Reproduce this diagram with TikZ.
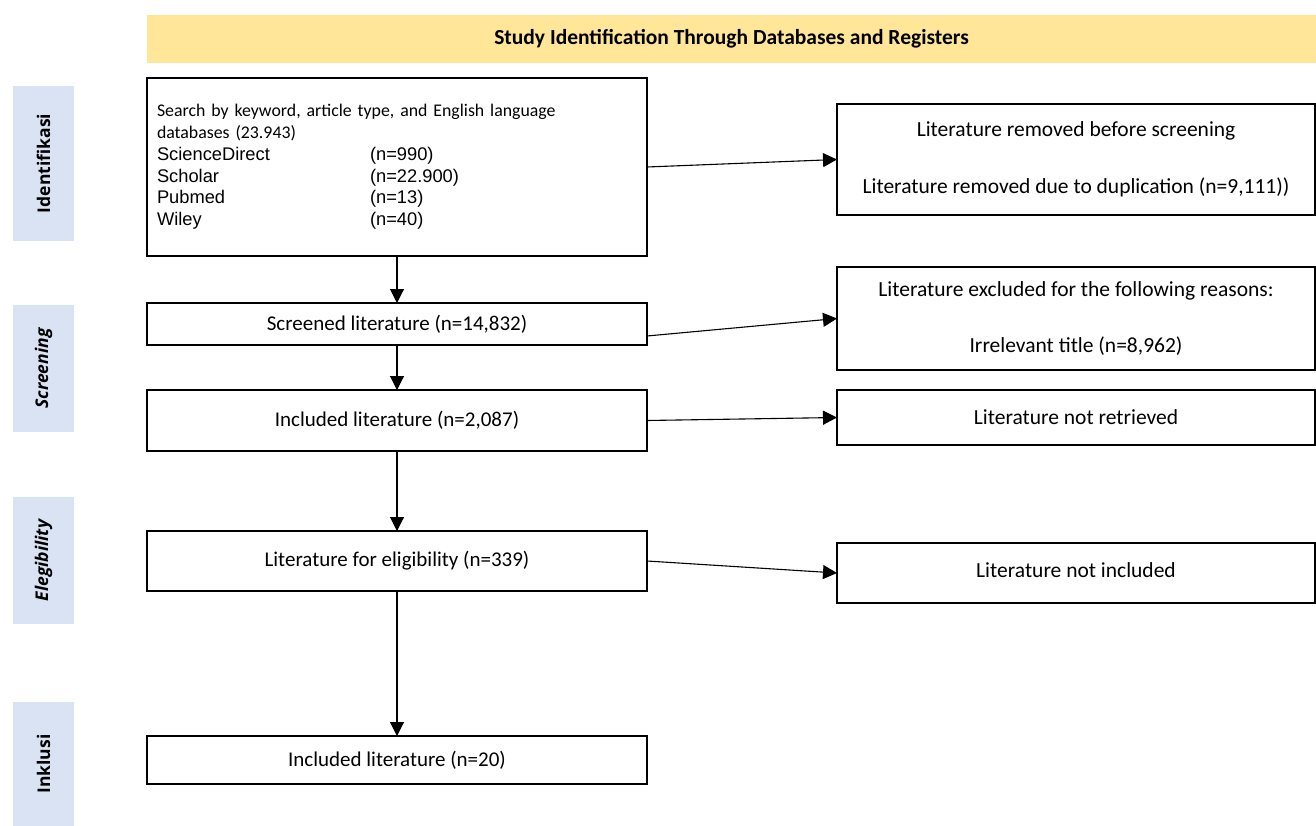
\documentclass[tikz,border=0pt]{standalone}
\usepackage{fontspec}
\setmainfont{Carlito}
\newfontfamily\arialfont{Liberation Sans}
\newfontfamily\phasefont{Open Sans}[BoldFont=* Bold, BoldItalicFont=* Bold Italic]
\usetikzlibrary{positioning}
\usetikzlibrary{arrows.meta}
\definecolor{headyellow}{HTML}{FFE699}
\definecolor{phaseblue}{HTML}{DAE3F3}
\def\bw{500pt}
\def\rw{478pt}
\tikzset{
    border/.style = {
        draw, rectangle, minimum width=\bw, inner sep=0pt, outer sep=0pt, line width=2.2pt, align=center, font=\fontsize{21}{25}\selectfont
    },
    sidebox/.style = {
        border, minimum width=\rw, line width=1.6pt, anchor=north west, font=\fontsize{21.5}{25}\selectfont
    },
    phase/.style = {
        fill=phaseblue, rotate=90, minimum height=61pt, inner sep=0pt, font=\phasefont\bfseries\fontsize{17.5}{20}\selectfont
    },
    link/.style = {
        -{Triangle[length=14pt,width=14pt]}, line width=1.1pt
    },
}

\begin{document}
\begin{tikzpicture}[x=1pt, y=-1pt]
        \useasboundingbox (0,0) rectangle (1316,826);
        % Header and phases
        \node[fill=headyellow, minimum width=1169pt, minimum height=48pt, inner sep=0pt, font=\bfseries\fontsize{21.5}{25}\selectfont] (head) at (731.5,39) {Study Identification Through Databases and Registers};
        \node[phase, minimum width=155pt] (idf) at (43.5,163.5) {Identifikasi};
        \node[phase, minimum width=127pt] (scr) at (43.5,368.5) {\itshape Screening};
        \node[phase, minimum width=127pt] (eli) at (43.5,560.5) {\itshape Elegibility};
        \node[phase, minimum width=124pt] (ink) at (43.5,764) {Inklusi};

        % Place the blocks
        \node[border, line width=2.6pt, minimum height=178pt, anchor=north west, text width=480pt, inner xsep=10pt, align=left, font=\fontsize{17.8}{21.8}\selectfont] (search) at (147,78) {Search by keyword, article type, and English language\\databases (23.943)\\{\arialfont\fontsize{18.3}{21.8}\selectfont\makebox[213pt][l]{ScienceDirect}(n=990)}\\{\arialfont\fontsize{18.3}{21.8}\selectfont\makebox[213pt][l]{Scholar}(n=22.900)}\\{\arialfont\fontsize{18.3}{21.8}\selectfont\makebox[213pt][l]{Pubmed}(n=13)}\\{\arialfont\fontsize{18.3}{21.8}\selectfont\makebox[213pt][l]{Wiley}(n=40)}};
        \node[border, minimum height=42pt, below=47pt of search] (screened) {Screened literature (n=14,832)};
        \node[border, minimum height=61pt, below=45pt of screened] (included) {Included literature (n=2,087)};
        \node[border, minimum height=60pt, below=80pt of included] (elig) {Literature for eligibility (n=339)};
        \node[border, line width=1.6pt, minimum height=48pt, below=145pt of elig] (final) {Included literature (n=20)};

        \node[sidebox, minimum height=111pt] (removed) at (837,104) {Literature removed before screening\\[32pt]Literature removed due to duplication (n=9,111))};
        \node[sidebox, minimum height=103pt] (excluded) at (837,267) {Literature excluded for the following reasons:\\[31pt]Irrelevant title (n=8,962)};
        \node[sidebox, minimum height=55pt] (notretr) at (837,390) {Literature not retrieved};
        \node[sidebox, minimum height=60pt] (notincl) at (837,543) {\raisebox{6pt}{Literature not included}};

        % Draw connections
        \draw[link] (search) -- (screened);
        \draw[link] (screened) -- (included);
        \draw[link] (included) -- (elig);
        \draw[link] (elig) -- (final);
        \draw[link] (search.east) -- (removed.west);
        \draw[link] ([yshift=-12pt] screened.east) -- (excluded.west);
        \draw[link] (included.east) -- (notretr.west);
        \draw[link] (elig.east) -- (notincl.west);
    \end{tikzpicture}
\end{document}
